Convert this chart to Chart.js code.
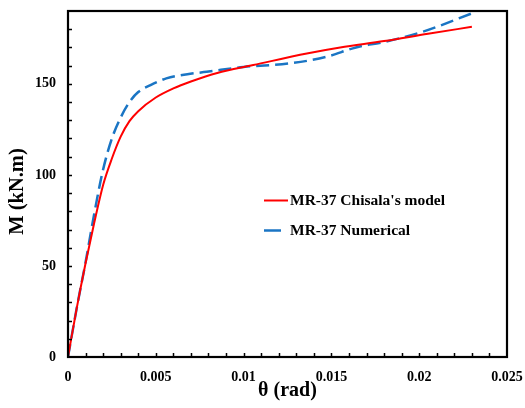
<!DOCTYPE html>
<html>
<head>
<meta charset="utf-8">
<script src="https://cdn.jsdelivr.net/npm/chart.js@4/dist/chart.umd.min.js"></script>
<style>
  html, body { margin: 0; padding: 0; background: #fff; }
  #wrap { width: 525px; height: 408px; }
</style>
</head>
<body>
<div id="wrap"><canvas id="chart" width="525" height="408"></canvas></div>
<script>
// rotation (rad) / moment (kN.m)
const chisalaTheta = [0, 0.0005, 0.001, 0.0015, 0.002, 0.0025, 0.003, 0.0035, 0.004, 0.005, 0.006, 0.007, 0.0085, 0.01055, 0.0136, 0.0155, 0.018, 0.0205, 0.023];
const chisalaM     = [0, 27, 51.5, 74, 94.5, 109, 121, 129.5, 135, 142.5, 147.5, 151.3, 156, 160.3, 166.7, 170, 173.5, 177.5, 181.3];

const numTheta = [0, 0.0005, 0.001, 0.0015, 0.002, 0.0025, 0.003, 0.0035, 0.004, 0.0047, 0.0056, 0.0068, 0.0079, 0.01, 0.0126, 0.0147, 0.0164, 0.018, 0.0202, 0.023];
const numM     = [0, 27, 52, 79, 103, 120, 131.5, 140, 145.5, 149.3, 153, 155.3, 156.6, 159.3, 161.2, 164.8, 170, 173, 178.6, 188.7];

const seriesNames = ["MR-37 Chisala's model", 'MR-37 Numerical'];
const xTickLabels = ['0', '0.005', '0.01', '0.015', '0.02', '0.025'];
const yTickLabels = ['0', '50', '100', '150'];
const yTitle = 'M (kN.m)';

const FONT = "'Liberation Serif', 'Times New Roman', serif";

function pts(xs, ys) {
  return xs.map((x, i) => ({ x: x, y: ys[i] }));
}

// frame, inward ticks, y title and in-plot legend
const framePlugin = {
  id: 'frame',
  afterDatasetsDraw(chart) {
    const { ctx, chartArea: a, scales } = chart;
    ctx.save();
    ctx.strokeStyle = '#000';
    ctx.lineWidth = 1.5;
    ctx.beginPath();
    for (let v = 0.001; v < 0.025; v += 0.001) {
      const px = Math.round(scales.x.getPixelForValue(v)) + 0.5;
      ctx.moveTo(px, a.bottom);
      ctx.lineTo(px, a.bottom - 4);
    }
    for (let v = 10; v < 190; v += 10) {
      const py = Math.round(scales.y.getPixelForValue(v)) + 0.5;
      ctx.moveTo(a.left, py);
      ctx.lineTo(a.left + 4, py);
    }
    ctx.stroke();
    ctx.lineWidth = 2.2;
    ctx.strokeRect(a.left, a.top, a.right - a.left, a.bottom - a.top);

    // y axis title, sitting a little below the centre like the original
    ctx.save();
    ctx.translate(17.5, 191.5);
    ctx.rotate(-Math.PI / 2);
    ctx.font = 'bold 20.5px ' + FONT;
    ctx.fillStyle = '#000';
    ctx.textAlign = 'center';
    ctx.textBaseline = 'middle';
    ctx.fillText(yTitle, 0, 0);
    ctx.restore();

    // legend
    const ds = chart.data.datasets;
    const lx = 264, rows = [200.5, 230.5], lens = [24, 17];
    ctx.font = 'bold 15.5px ' + FONT;
    ctx.textBaseline = 'middle';
    ctx.fillStyle = '#000';
    ds.forEach((d, i) => {
      ctx.strokeStyle = d.borderColor;
      ctx.lineWidth = d.borderWidth;
      ctx.beginPath();
      ctx.moveTo(lx, rows[i]);
      ctx.lineTo(lx + lens[i], rows[i]);
      ctx.stroke();
      ctx.fillText(d.label, 290, rows[i]);
    });
    ctx.restore();
  }
};

new Chart(document.getElementById('chart'), {
  type: 'scatter',
  data: {
    datasets: [
      {
        label: seriesNames[0],
        data: pts(chisalaTheta, chisalaM),
        showLine: true,
        borderColor: '#ff0000',
        borderWidth: 2,
        pointRadius: 0,
        cubicInterpolationMode: 'monotone'
      },
      {
        label: seriesNames[1],
        data: pts(numTheta, numM),
        showLine: true,
        borderColor: '#1a75c4',
        borderWidth: 2.5,
        borderDash: [13, 6],
        pointRadius: 0,
        cubicInterpolationMode: 'monotone'
      }
    ]
  },
  options: {
    responsive: false,
    animation: false,
    layout: { padding: { top: 11, right: 18, bottom: 5, left: 6 } },
    plugins: { legend: { display: false }, tooltip: { enabled: false } },
    scales: {
      x: {
        type: 'linear',
        min: 0, max: 0.025,
        grid: { display: false, drawTicks: false },
        border: { display: false },
        ticks: {
          stepSize: 0.005,
          padding: 12,
          color: '#000',
          font: { family: FONT, size: 14, weight: 'bold' },
          callback: (v, i) => xTickLabels[i]
        },
        title: {
          display: true, text: 'θ (rad)', color: '#000',
          font: { family: FONT, size: 20, weight: 'bold' },
          padding: { top: 0, bottom: 0 }
        },
        afterFit: s => { s.height = 46; s.paddingLeft = 0; s.paddingRight = 0; }
      },
      y: {
        type: 'linear',
        min: 0, max: 190,
        grid: { display: false, drawTicks: false },
        border: { display: false },
        ticks: {
          stepSize: 50,
          includeBounds: false,
          padding: 12,
          color: '#000',
          font: { family: FONT, size: 14, weight: 'bold' },
          callback: (v, i) => yTickLabels[i]
        },
        title: { display: false },
        afterFit: s => { s.width = 62; s.paddingTop = 0; s.paddingBottom = 0; }
      }
    }
  },
  plugins: [framePlugin]
});
</script>
</body>
</html>
